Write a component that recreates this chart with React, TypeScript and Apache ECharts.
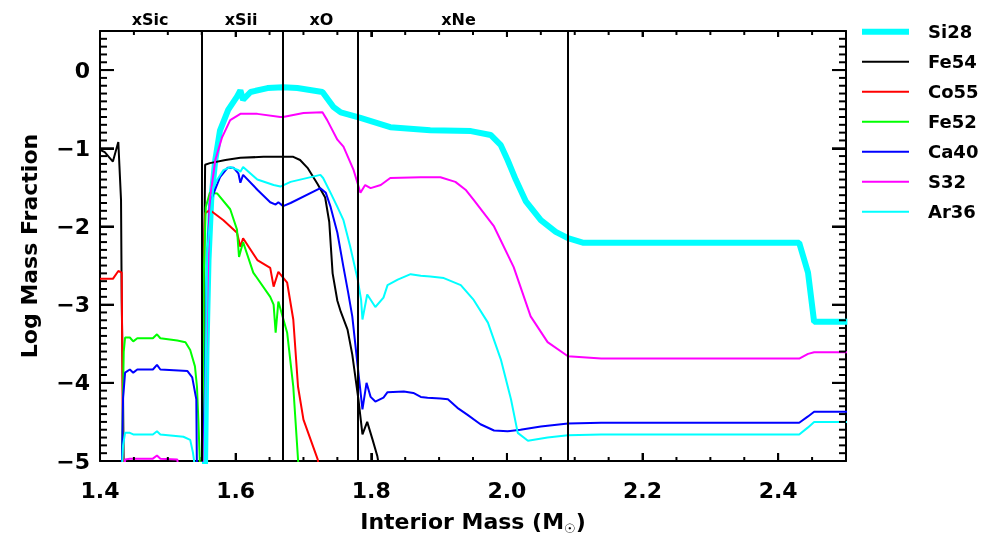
import React, { useEffect, useRef } from 'react';
import * as echarts from 'echarts';

// ---- data (interior mass in Msun, log mass fraction) ----
const si28: (number | null)[][] = [
  [1.554, -5.2], [1.555, -5.0], [1.557, -3.58], [1.56, -2.43], [1.564, -1.66], [1.57, -1.15],
  [1.577, -0.77], [1.589, -0.51], [1.602, -0.34], [1.607, -0.26], [1.611, -0.38], [1.622, -0.28],
  [1.647, -0.23], [1.67, -0.22], [1.691, -0.23], [1.728, -0.28], [1.744, -0.47], [1.755, -0.54],
  [1.784, -0.61], [1.828, -0.73], [1.887, -0.77], [1.947, -0.78], [1.976, -0.83], [1.991, -0.96],
  [2.001, -1.15], [2.013, -1.4], [2.028, -1.68], [2.05, -1.92], [2.072, -2.07], [2.09, -2.15],
  [2.113, -2.21], [2.431, -2.21], [2.444, -2.59], [2.453, -3.22], [2.502, -3.22],
];

const fe54: (number | null)[][] = [
  [1.4, -1.02], [1.407, -1.05], [1.419, -1.17], [1.427, -0.92], [1.431, -1.66], [1.432, -2.94],
  [1.434, -4.21], [1.435, -5.2], [1.44, null],
  [1.551, -5.2], [1.553, -3.0], [1.555, -1.21], [1.562, -1.19], [1.585, -1.15], [1.607, -1.12],
  [1.641, -1.11], [1.685, -1.11], [1.695, -1.15], [1.706, -1.25], [1.721, -1.46], [1.732, -1.63],
  [1.738, -1.94], [1.743, -2.6], [1.75, -2.95], [1.755, -3.09], [1.765, -3.32], [1.772, -3.64],
  [1.781, -4.21], [1.787, -4.66], [1.794, -4.5], [1.802, -4.73], [1.809, -4.94], [1.814, -5.2],
];

const co55: (number | null)[][] = [
  [1.4, -2.67], [1.419, -2.67], [1.427, -2.57], [1.432, -2.59], [1.434, -5.2], [1.44, null],
  [1.551, -5.2], [1.552, -3.61], [1.553, -2.34], [1.555, -1.83], [1.562, -1.79], [1.582, -1.92],
  [1.602, -2.08], [1.607, -2.26], [1.611, -2.15], [1.632, -2.43], [1.651, -2.53], [1.656, -2.77],
  [1.663, -2.58], [1.676, -2.72], [1.685, -3.19], [1.692, -4.05], [1.7, -4.47], [1.721, -4.98],
  [1.725, -5.2],
];

const fe52: (number | null)[][] = [
  [1.432, -5.2], [1.435, -3.6], [1.437, -3.42], [1.444, -3.42], [1.449, -3.47], [1.455, -3.43],
  [1.478, -3.43], [1.484, -3.38], [1.489, -3.43], [1.514, -3.46], [1.526, -3.48], [1.533, -3.58],
  [1.54, -3.79], [1.543, -4.05], [1.545, -4.47], [1.548, -5.2], [1.549, null],
  [1.551, -5.2], [1.553, -2.6], [1.556, -1.75], [1.562, -1.57], [1.573, -1.58], [1.592, -1.78],
  [1.602, -2.04], [1.605, -2.39], [1.611, -2.2], [1.626, -2.59], [1.651, -2.9], [1.656, -3.0],
  [1.659, -3.36], [1.663, -2.96], [1.676, -3.36], [1.685, -4.05], [1.692, -4.98], [1.694, -5.2],
];

const ca40: (number | null)[][] = [
  [1.432, -5.2], [1.434, -4.2], [1.437, -3.87], [1.444, -3.83], [1.449, -3.87], [1.455, -3.83],
  [1.478, -3.83], [1.484, -3.77], [1.489, -3.83], [1.529, -3.85], [1.536, -3.93], [1.542, -4.21],
  [1.543, -5.2], [1.545, null],
  [1.551, -5.2], [1.555, -4.0], [1.558, -2.5], [1.562, -1.7], [1.577, -1.37], [1.588, -1.25],
  [1.597, -1.25], [1.604, -1.32], [1.607, -1.44], [1.611, -1.34], [1.632, -1.53], [1.651, -1.69],
  [1.659, -1.72], [1.663, -1.69], [1.67, -1.74], [1.681, -1.7], [1.725, -1.51], [1.733, -1.57],
  [1.74, -1.75], [1.75, -2.08], [1.759, -2.52], [1.766, -2.85], [1.772, -3.15], [1.78, -3.79],
  [1.787, -4.34], [1.793, -4.0], [1.799, -4.18], [1.806, -4.24], [1.818, -4.19], [1.824, -4.12],
  [1.848, -4.11], [1.862, -4.13], [1.873, -4.18], [1.883, -4.19], [1.902, -4.2], [1.913, -4.21],
  [1.927, -4.32], [1.942, -4.41], [1.961, -4.53], [1.981, -4.61], [2.001, -4.62], [2.02, -4.6],
  [2.05, -4.56], [2.09, -4.52], [2.139, -4.51], [2.431, -4.51], [2.444, -4.43], [2.453, -4.37],
  [2.502, -4.37],
];

const s32: (number | null)[][] = [
  [1.436, -5.2], [1.437, -4.98], [1.444, -4.97], [1.478, -4.97], [1.484, -4.93], [1.489, -4.97],
  [1.514, -4.98], [1.517, -5.2], [1.52, null],
  [1.553, -5.2], [1.558, -3.0], [1.562, -1.66], [1.57, -1.15], [1.58, -0.86], [1.592, -0.64],
  [1.607, -0.56], [1.632, -0.56], [1.666, -0.6], [1.67, -0.6], [1.7, -0.55], [1.728, -0.54],
  [1.735, -0.64], [1.75, -0.89], [1.759, -0.98], [1.774, -1.28], [1.784, -1.57], [1.791, -1.47],
  [1.799, -1.51], [1.814, -1.47], [1.828, -1.38], [1.873, -1.37], [1.902, -1.37], [1.924, -1.43],
  [1.939, -1.53], [1.951, -1.66], [1.981, -2.0], [2.01, -2.52], [2.035, -3.15], [2.06, -3.48],
  [2.09, -3.66], [2.139, -3.69], [2.431, -3.69], [2.444, -3.63], [2.453, -3.61], [2.502, -3.61],
];

const ar36: (number | null)[][] = [
  [1.432, -5.2], [1.434, -4.8], [1.437, -4.64], [1.444, -4.64], [1.449, -4.66], [1.478, -4.66],
  [1.484, -4.62], [1.489, -4.66], [1.523, -4.69], [1.533, -4.73], [1.537, -4.89], [1.542, -5.2],
  [1.545, null],
  [1.554, -5.2], [1.558, -2.34], [1.567, -1.5], [1.573, -1.4], [1.582, -1.28], [1.592, -1.24],
  [1.604, -1.28], [1.607, -1.3], [1.611, -1.24], [1.632, -1.4], [1.656, -1.47], [1.666, -1.49],
  [1.681, -1.43], [1.725, -1.34], [1.729, -1.38], [1.74, -1.57], [1.75, -1.75], [1.759, -1.92],
  [1.769, -2.26], [1.78, -2.68], [1.785, -2.94], [1.787, -3.19], [1.794, -2.87], [1.806, -3.03],
  [1.818, -2.91], [1.824, -2.75], [1.839, -2.68], [1.858, -2.61], [1.873, -2.63], [1.887, -2.64],
  [1.907, -2.66], [1.932, -2.75], [1.951, -2.94], [1.972, -3.23], [1.991, -3.7], [2.006, -4.21],
  [2.016, -4.64], [2.031, -4.74], [2.06, -4.7], [2.09, -4.67], [2.139, -4.66], [2.431, -4.66],
  [2.444, -4.57], [2.453, -4.5], [2.502, -4.5],
];

// burning-zone boundaries and their labels
const zoneStarts = [1.4, 1.548, 1.668, 1.785];
const zoneEnds = [1.548, 1.668, 1.785, 2.087];
const zoneLabels = ['xSic', 'xSii', 'xO', 'xNe'];
const zoneEdges = [1.548, 1.668, 1.785, 2.087];

// axis tick values
const xMajorTicks = [1.4, 1.6, 1.8, 2.0, 2.2, 2.4];
const xMinorTicks = [1.45, 1.5, 1.55, 1.65, 1.7, 1.75, 1.85, 1.9, 1.95, 2.05, 2.1, 2.15, 2.25, 2.3, 2.35, 2.45];
const yMajorTicks = [-5, -4, -3, -2, -1, 0];
const yMinorTicks: number[] = [];
for (let k = -49; k <= 4; k++) if (k % 10 !== 0) yMinorTicks.push(k / 10);

const seriesNames = ['Si28', 'Fe54', 'Co55', 'Fe52', 'Ca40', 'S32', 'Ar36'];
const seriesColors = ['#00ffff', '#000000', '#ff0000', '#00ff00', '#0000ff', '#ff00ff', '#00ffff'];
const seriesWidths = [6, 2, 2, 2, 2, 2, 2];
const seriesData = [si28, fe54, co55, fe52, ca40, s32, ar36];

const xMin = 1.4;
const xMax = 2.5;
const yMin = -5;
const yMax = 0.5;

const FONT = '"DejaVu Sans", sans-serif';

export default function App() {
  const ref = useRef<HTMLDivElement>(null);

  useEffect(() => {
    if (!ref.current) return;
    const chart = echarts.init(ref.current, null, { renderer: 'svg' });

    const lineSeries = seriesNames.map((name, i) => ({
      type: 'line',
      name,
      data: seriesData[i],
      xAxisIndex: 0,
      yAxisIndex: 0,
      symbol: 'none',
      showSymbol: false,
      connectNulls: false,
      clip: true,
      silent: true,
      lineStyle: { color: seriesColors[i], width: seriesWidths[i] },
      itemStyle: { color: seriesColors[i] },
      emphasis: { disabled: true },
    }));

    const black = '#000';
    const tl = { color: black, width: 2 };
    const txt = { color: black, fontFamily: FONT, fontWeight: 'bold' as const };

    const xAx = (extra: any) => ({
      type: 'value',
      min: xMin,
      max: xMax,
      interval: 0.2,
      splitLine: { show: false },
      axisLine: { show: true, onZero: false, lineStyle: tl },
      axisTick: { show: true, inside: true, length: 8, lineStyle: tl },
      ...extra,
    });
    const yAx = (extra: any) => ({
      type: 'value',
      min: yMin,
      max: yMax,
      interval: 1,
      splitLine: { show: false },
      axisLine: { show: true, onZero: false, lineStyle: tl },
      axisTick: { show: true, inside: true, length: 14, lineStyle: tl },
      ...extra,
    });

    const option: any = {
      animation: false,
      grid: { left: 100, top: 31, width: 746, height: 430, containLabel: false },
      legend: [
        {
          data: ['Si28'],
          left: 862,
          top: 21.7,
          orient: 'vertical',
          icon: 'rect',
          itemWidth: 47,
          itemHeight: 6,
          padding: 0,
          selectedMode: false,
          textStyle: { ...txt, fontSize: 18, lineHeight: 20, padding: [0, 0, 0, 14] },
        },
        {
          data: seriesNames.slice(1),
          left: 862,
          top: 51.7,
          orient: 'vertical',
          icon: 'rect',
          itemWidth: 47,
          itemHeight: 2,
          itemGap: 10,
          padding: 0,
          selectedMode: false,
          textStyle: { ...txt, fontSize: 18, lineHeight: 20, padding: [0, 0, 0, 14] },
        },
      ],
      xAxis: [
        xAx({
          position: 'bottom',
          axisLabel: {
            show: true,
            ...txt,
            fontSize: 22,
            margin: 18,
            showMaxLabel: false,
            formatter: (v: number) => v.toFixed(1),
          },
          name: 'Interior Mass (M{s|☉})',
          nameLocation: 'middle',
          nameGap: 46,
          nameTextStyle: {
            ...txt,
            fontSize: 22,
            lineHeight: 28,
            rich: { s: { ...txt, fontSize: 13, verticalAlign: 'bottom', lineHeight: 14 } },
          },
        }),
        xAx({ position: 'top', axisLabel: { show: false }, axisTick: { show: true, inside: true, length: 6, lineStyle: tl } }),
      ],
      yAxis: [
        yAx({
          position: 'left',
          axisLabel: {
            show: true,
            ...txt,
            fontSize: 22,
            margin: 10,
            showMaxLabel: false,
            formatter: (v: number) => (v < 0 ? '\u2212' + Math.abs(v) : String(v)),
          },
          name: 'Log Mass Fraction',
          nameLocation: 'middle',
          nameGap: 60,
          nameTextStyle: { ...txt, fontSize: 22 },
        }),
        yAx({ position: 'right', axisLabel: { show: false } }),
      ],
      series: [
        ...lineSeries,
        {
          type: 'line',
          name: 'zones',
          data: [],
          xAxisIndex: 0,
          yAxisIndex: 0,
          silent: true,
          symbol: 'none',
          markLine: {
            silent: true,
            symbol: ['none', 'none'],
            label: { show: false },
            lineStyle: { color: black, width: 2, type: 'solid' },
            data: zoneEdges.map((x) => ({ xAxis: x })),
          },
          markArea: {
            silent: true,
            itemStyle: { color: 'rgba(0,0,0,0)' },
            label: { show: true, position: 'top', distance: 4, ...txt, fontSize: 16 },
            data: zoneLabels.map((n, i) => [
              i === 3
                ? { xAxis: zoneStarts[i], name: n, label: { offset: [-5, 0] } }
                : { xAxis: zoneStarts[i], name: n },
              { xAxis: zoneEnds[i] },
            ]),
          },
        },
      ],
    };

    chart.setOption(option);

    // tick marks placed through the chart's own scales (convertToPixel)
    const px = (x: number, y: number) =>
      chart.convertToPixel({ xAxisIndex: 0, yAxisIndex: 0 }, [x, y]) as number[];
    const seg = (x1: number, y1: number, x2: number, y2: number) => ({
      type: 'line',
      silent: true,
      z: 100,
      shape: { x1, y1, x2, y2 },
      style: { stroke: black, lineWidth: 2 },
    });
    const elements: any[] = [];
    const addY = (vals: number[], len: number) =>
      vals.forEach((v) => {
        const l = px(xMin, v);
        const r = px(xMax, v);
        if (!l || !r) return;
        elements.push(seg(l[0], l[1], l[0] + len, l[1]));
        elements.push(seg(r[0], r[1], r[0] - len, r[1]));
      });
    const addX = (vals: number[], lenB: number, lenT: number) =>
      vals.forEach((v) => {
        const b = px(v, yMin);
        const t = px(v, yMax);
        if (!b || !t) return;
        elements.push(seg(b[0], b[1], b[0], b[1] - lenB));
        elements.push(seg(t[0], t[1], t[0], t[1] + lenT));
      });
    addY(yMajorTicks, 14);
    addY(yMinorTicks, 7);
    addX(xMajorTicks, 8, 6);
    addX(xMinorTicks, 4, 4);
    chart.setOption({ graphic: { elements } });

    return () => chart.dispose();
  }, []);

  return <div ref={ref} style={{ position: 'fixed', left: 0, top: 0, width: 985, height: 546 }} />;
}
